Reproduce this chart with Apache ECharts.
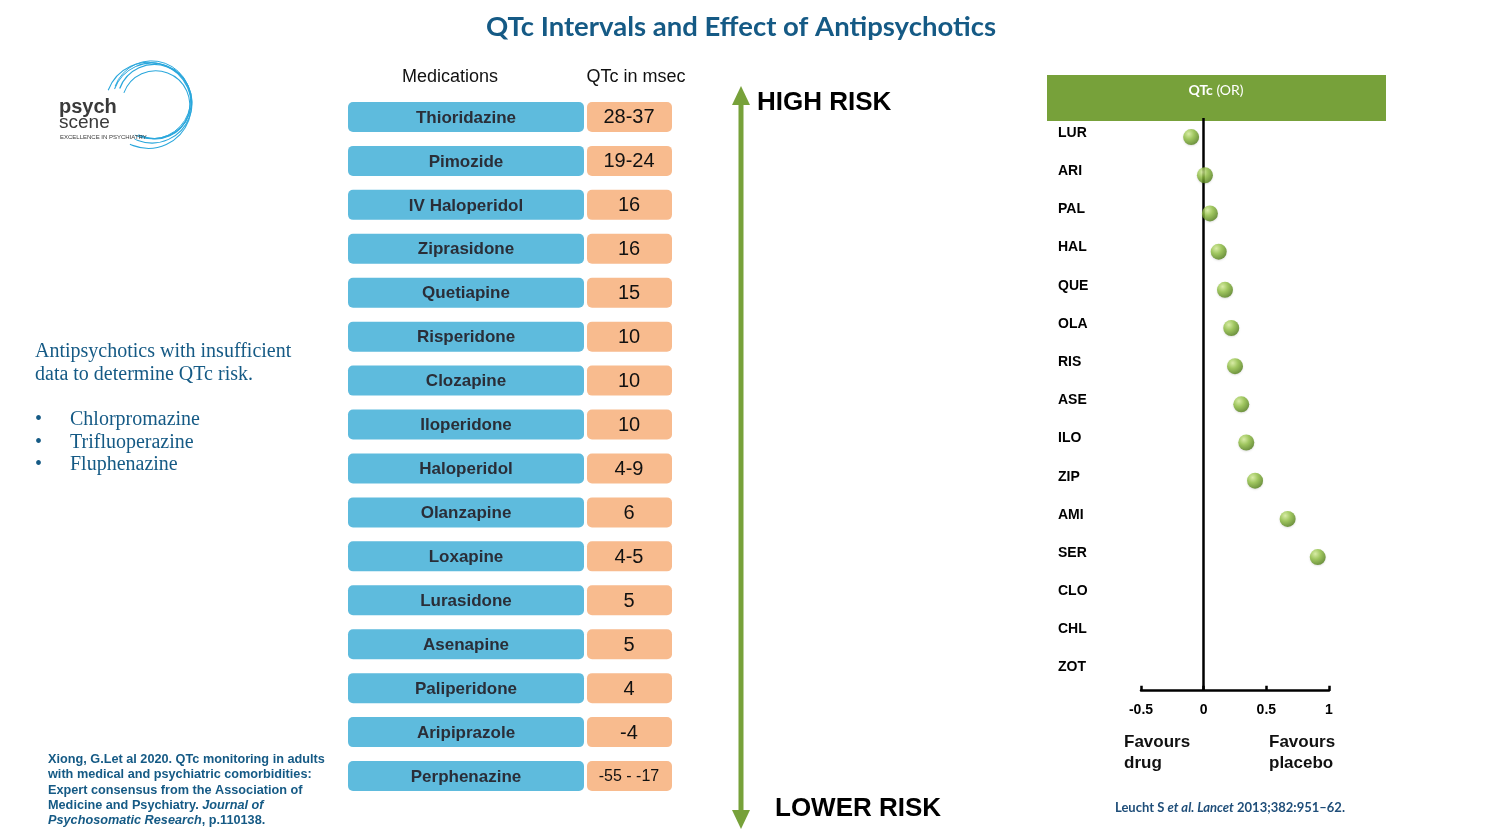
<!DOCTYPE html>
<html>
<head>
<meta charset="utf-8">
<script src="https://cdn.jsdelivr.net/npm/echarts@6/dist/echarts.min.js"></script>
<style>
html,body{margin:0;padding:0;background:#fff;}
#main{width:1500px;height:839px;}
</style>
</head>
<body>
<div id="main"></div>
<script>
// ---- Data ----
var medications = ['Thioridazine','Pimozide','IV Haloperidol','Ziprasidone','Quetiapine','Risperidone','Clozapine','Iloperidone','Haloperidol','Olanzapine','Loxapine','Lurasidone','Asenapine','Paliperidone','Aripiprazole','Perphenazine'];
var qtcMsec = ['28-37','19-24','16','16','15','10','10','10','4-9','6','4-5','5','5','4','-4','-55 - -17'];
var forestDrugs = ['LUR','ARI','PAL','HAL','QUE','OLA','RIS','ASE','ILO','ZIP','AMI','SER','CLO','CHL','ZOT'];
var forestQTcOR = [-0.10, 0.01, 0.05, 0.12, 0.17, 0.22, 0.25, 0.30, 0.34, 0.41, 0.67, 0.91, null, null, null];
var forestTicks = [-0.5, 0, 0.5, 1];
var insufficientData = ['Chlorpromazine','Trifluoperazine','Fluphenazine'];

var chart = echarts.init(document.getElementById('main'));
var titleColor = '#155a85';
var green = '#77a13a';
var serif = '"Liberation Serif", "DejaVu Serif", serif';

var logoArcs = [];
[[0,0,40,1.0],[2,-2,37,1.3],[-3,3,43,1.1],[4,1,34,1.0],[-1,-3,39,0.9]].forEach(function(a){
  logoArcs.push({type:'arc', shape:{cx:a[0], cy:a[1], r:a[2], startAngle:3.3, endAngle:8.1, clockwise:true},
    style:{stroke:'#2aa7dc', lineWidth:a[3], fill:null}});
});

var graphics = [
  // title
  {type:'text', x:741, y:27, style:{text:'QTc Intervals and Effect of Antipsychotics', font:'bold 27.5px Lato, "Open Sans", sans-serif', fill:titleColor, textAlign:'center', textVerticalAlign:'middle'}},
  // logo
  {type:'group', x:152, y:103, rotation:-0.2, children:logoArcs},
  {type:'text', x:59, y:107, style:{text:'psych', font:'bold 20px "Liberation Sans", Arial, sans-serif', fill:'#3a3a3a', textVerticalAlign:'middle'}},
  {type:'text', x:59, y:123, style:{text:'scene', font:'19px "Liberation Sans", Arial, sans-serif', fill:'#3a3a3a', textVerticalAlign:'middle'}},
  {type:'text', x:60, y:137, style:{text:'EXCELLENCE IN PSYCHIATRY', font:'6px "Liberation Sans", Arial, sans-serif', fill:'#3a3a3a', textVerticalAlign:'middle'}},
  // table headers
  {type:'text', x:450, y:77, style:{text:'Medications', font:'18px "Liberation Sans", Arial, sans-serif', fill:'#111', textAlign:'center', textVerticalAlign:'middle'}},
  {type:'text', x:636, y:77, style:{text:'QTc in msec', font:'18px "Liberation Sans", Arial, sans-serif', fill:'#111', textAlign:'center', textVerticalAlign:'middle'}},
  // insufficient data block
  {type:'text', x:35, y:352, style:{text:'Antipsychotics with insufficient', font:'20px ' + serif, fill:titleColor, textVerticalAlign:'middle'}},
  {type:'text', x:35, y:375, style:{text:'data to determine QTc risk.', font:'20px ' + serif, fill:titleColor, textVerticalAlign:'middle'}},
  // arrow
  {type:'line', shape:{x1:741, y1:100, x2:741, y2:812}, style:{stroke:green, lineWidth:5}},
  {type:'polygon', shape:{points:[[741,86],[732,105],[750,105]]}, style:{fill:green}},
  {type:'polygon', shape:{points:[[741,829],[732,810],[750,810]]}, style:{fill:green}},
  {type:'text', x:757, y:103, style:{text:'HIGH RISK', font:'bold 26px "Liberation Sans", Arial, sans-serif', fill:'#000', textVerticalAlign:'middle'}},
  {type:'text', x:775, y:809, style:{text:'LOWER RISK', font:'bold 26px "Liberation Sans", Arial, sans-serif', fill:'#000', textVerticalAlign:'middle'}},
  // Xiong citation
  {type:'text', x:48, y:752, style:{
    text:'Xiong, G.Let al 2020. QTc monitoring in adults\nwith medical and psychiatric comorbidities:\nExpert consensus from the Association of\nMedicine and Psychiatry. {i|Journal of}\n{i|Psychosomatic Research}, p.110138.',
    font:'bold 12.7px "Liberation Sans", Arial, sans-serif', lineHeight:15.3, fill:titleColor,
    rich:{i:{font:'italic bold 12.7px "Liberation Sans", Arial, sans-serif', fill:titleColor, lineHeight:15.3}}}},
  // forest header
  {type:'rect', shape:{x:1047, y:75, width:339, height:46}, style:{fill:green}},
  {type:'text', x:1216, y:90, style:{text:'{b|QTc} (OR)', font:'14px Lato, "Open Sans", sans-serif', fill:'#fff', textAlign:'center', textVerticalAlign:'middle',
    rich:{b:{font:'bold 14px Lato, "Open Sans", sans-serif', fill:'#fff'}}}},
  // favours
  {type:'text', x:1124, y:732, style:{text:'Favours\ndrug', font:'bold 17px "Liberation Sans", Arial, sans-serif', lineHeight:21, fill:'#111'}},
  {type:'text', x:1269, y:732, style:{text:'Favours\nplacebo', font:'bold 17px "Liberation Sans", Arial, sans-serif', lineHeight:21, fill:'#111'}},
  // Leucht citation
  {type:'text', x:1230, y:808, style:{text:'Leucht S {i|et al. Lancet} 2013;382:951\u201362.', font:'bold 13px Lato, "Open Sans", sans-serif', fill:'#1f4e79', textAlign:'center', textVerticalAlign:'middle',
    rich:{i:{font:'italic bold 13px Lato, "Open Sans", sans-serif', fill:'#1f4e79'}}}}
];
insufficientData.forEach(function(name, i){
  graphics.push({type:'text', x:35, y:420 + i*22.5, style:{text:'\u2022', font:'20px ' + serif, fill:titleColor, textVerticalAlign:'middle'}});
  graphics.push({type:'text', x:70, y:420 + i*22.5, style:{text:name, font:'20px ' + serif, fill:titleColor, textVerticalAlign:'middle'}});
});

var option = {
  backgroundColor:'#ffffff',
  animation:false,
  graphic: graphics,
  grid:[
    {left:348, top:95, width:328, height:703},
    {left:1141, top:118, width:188, height:572.7}
  ],
  xAxis:[
    {gridIndex:0, type:'value', min:0, max:1, show:false},
    {gridIndex:1, type:'value', min:-0.5, max:1, interval:0.5,
      axisLine:{show:true, onZero:false, lineStyle:{color:'#000', width:2.5}},
      axisTick:{show:true, inside:true, length:5, lineStyle:{color:'#000', width:2.5}},
      axisLabel:{show:true, margin:12, color:'#000', fontWeight:'bold', fontSize:14, fontFamily:'"Liberation Sans", Arial, sans-serif',
        formatter:function(v){ return forestTicks.indexOf(v) >= 0 ? String(v) : ''; }},
      splitLine:{show:false}}
  ],
  yAxis:[
    {gridIndex:0, type:'category', data:medications, inverse:true, show:false},
    {gridIndex:1, type:'category', data:forestDrugs, inverse:true,
      axisLine:{show:false}, axisTick:{show:false}, splitLine:{show:false},
      axisLabel:{align:'left', margin:83,
        formatter:function(v){ return '{a|' + v + '}'; },
        rich:{a:{color:'#000', fontWeight:'bold', fontSize:14, fontFamily:'"Liberation Sans", Arial, sans-serif', padding:[0,0,8,0]}}}}
  ],
  series:[
    {
      type:'custom', xAxisIndex:0, yAxisIndex:0,
      data: medications.map(function(m, i){ return [0, i]; }),
      encode:{x:0, y:1},
      renderItem:function(params, api){
        var i = params.dataIndex;
        var c = api.coord([0, api.value(1)]);
        var x0 = params.coordSys.x;
        var h = 30, y = c[1] - h/2;
        var q = qtcMsec[i];
        var qFont = q.length > 6 ? '16px "Liberation Sans", Arial, sans-serif' : '20px "Liberation Sans", Arial, sans-serif';
        return {type:'group', children:[
          {type:'rect', shape:{x:x0, y:y, width:236, height:h, r:5}, style:{fill:'#5ebbdd'}},
          {type:'text', style:{x:x0 + 118, y:c[1] + 1, text:medications[i], textAlign:'center', textVerticalAlign:'middle', font:'bold 17px "Liberation Sans", Arial, sans-serif', fill:'#2a2e38'}},
          {type:'rect', shape:{x:x0 + 239, y:y, width:85, height:h, r:5}, style:{fill:'#f8bb8e'}},
          {type:'text', style:{x:x0 + 281, y:c[1] + 1, text:q, textAlign:'center', textVerticalAlign:'middle', font:qFont, fill:'#111'}}
        ]};
      }
    },
    {
      type:'scatter', xAxisIndex:1, yAxisIndex:1,
      data: forestDrugs.map(function(d, i){ return [forestQTcOR[i] === null ? '-' : forestQTcOR[i], d]; }),
      symbolSize:16,
      itemStyle:{
        color:{type:'radial', x:0.35, y:0.3, r:0.75, colorStops:[{offset:0, color:'#d6ef98'},{offset:0.45, color:'#8fbf3f'},{offset:1, color:'#4d7a14'}]},
        shadowColor:'rgba(0,0,0,0.15)', shadowBlur:2, shadowOffsetY:1
      },
      z:5,
      markLine:{silent:true, symbol:'none', label:{show:false}, lineStyle:{color:'#000', width:2.5, type:'solid'},
        data:[{xAxis:0}]}
    }
  ]
};
chart.setOption(option);
</script>
</body>
</html>
